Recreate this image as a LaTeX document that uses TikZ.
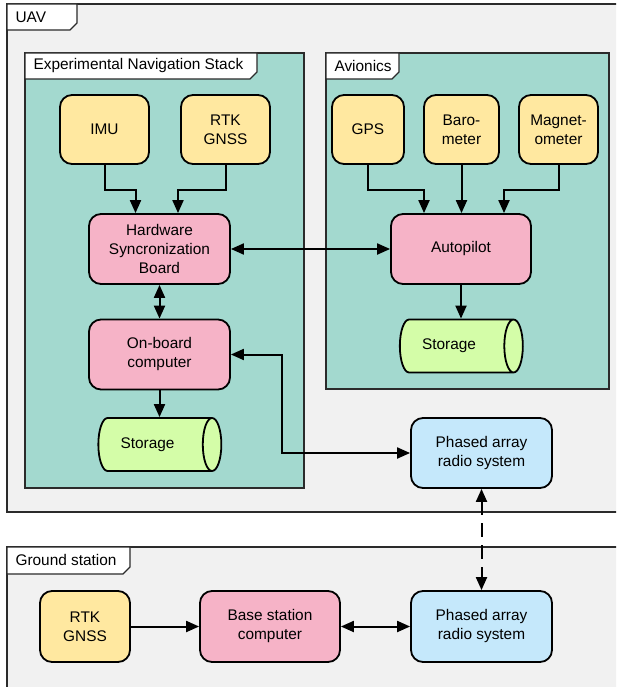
\documentclass[tikz,border=0pt]{standalone}
\usepackage{fontspec}
\setmainfont{Liberation Sans}
\usetikzlibrary{arrows.meta,shapes.geometric}
\definecolor{bggray}{HTML}{F1F1F1}
\definecolor{tealfill}{HTML}{A3D9CF}
\definecolor{sensorfill}{HTML}{FFE8A0}
\definecolor{procfill}{HTML}{F6B3C7}
\definecolor{radiofill}{HTML}{C5E8FB}
\definecolor{storefill}{HTML}{D4FDA8}
\definecolor{framedark}{HTML}{2B2B2B}
\begin{document}
\begin{tikzpicture}[x=1pt,y=-1pt,
  font=\fontsize{15.4}{19}\selectfont,
  box/.style={draw=black,line width=1.8pt,rounded corners=12pt,align=center,inner sep=2pt},
  sensor/.style={box,fill=sensorfill,minimum height=69pt},
  proc/.style={box,fill=procfill,minimum width=141pt,minimum height=70pt},
  radio/.style={box,fill=radiofill,minimum width=141pt,minimum height=70pt},
  store/.style={draw=black,line width=1.8pt,fill=storefill,cylinder,aspect=0.9,
    minimum width=53pt,minimum height=123pt},
  frame/.style={draw=framedark,line width=2pt},
  tab/.style={draw=framedark,line width=1.3pt,fill=white},
  conn/.style={line width=2pt,-{Triangle[length=13pt,width=11pt]}},
  dconn/.style={line width=2pt,{Triangle[length=13pt,width=11pt]}-{Triangle[length=13pt,width=11pt]}}]
\clip (0,0) rectangle (616,687);

% containers
\draw [frame,fill=bggray] (7,4) rectangle (640,512);
\draw [frame,fill=bggray] (7,547) rectangle (640,710);
\draw [frame,line width=1.6pt,fill=tealfill] (25,53) rectangle (304,488);
\draw [frame,line width=1.6pt,fill=tealfill] (326,53) rectangle (609,389);

% tabs
\draw [tab] (7,4) -- (77,4) -- (77,23) -- (70,30) -- (7,30) -- cycle;
\node [anchor=west] (uavlbl) at (12,17) {UAV};
\draw [tab] (25,53) -- (257,53) -- (257,72) -- (250,79) -- (25,79) -- cycle;
\node [anchor=west] (enslbl) at (30,66) {Experimental Navigation Stack};
\draw [tab] (326,53) -- (399,53) -- (399,72) -- (392,79) -- (326,79) -- cycle;
\node [anchor=west] (avilbl) at (331,66) {Avionics};
\draw [tab] (7,547) -- (130,547) -- (130,567) -- (123,574) -- (7,574) -- cycle;
\node [anchor=west] (gndlbl) at (12,560) {Ground station};

% sensors
\node [sensor,minimum width=89pt] (imu) at (104.5,129.5) {IMU};
\node [sensor,minimum width=89pt] (rtk) at (225.5,129.5) {RTK\\GNSS};
\node [sensor,minimum width=72pt] (gps) at (368,129.5) {GPS};
\node [sensor,minimum width=75pt] (baro) at (461.5,129.5) {Baro-\\meter};
\node [sensor,minimum width=79pt] (mag) at (558.5,129.5) {Magnet-\\ometer};

% processing
\node [proc] (hsb) at (159.5,249) {Hardware\\Syncronization\\Board};
\node [proc,minimum width=140pt] (ap) at (461,249) {Autopilot};
\node [proc] (obc) at (159.5,354.5) {On-board\\computer};
\node [store] (stobc) at (152.5,444.5) {Storage\hspace*{10pt}};
\node [store] (stap) at (454,346) {Storage\hspace*{10pt}};
\node [radio] (pau) at (481.5,453) {Phased array\\radio system};

% ground
\node [sensor,minimum width=90pt,minimum height=71pt] (rtkg) at (85,626.5) {RTK\\GNSS};
\node [proc,minimum width=140pt,minimum height=71pt] (base) at (270,626.5) {Base station\\computer};
\node [radio,minimum height=71pt] (pag) at (481.5,626.5) {Phased array\\radio system};

% connectors
\draw [conn] (imu.south) -- ++(0,25) -| ([xshift=-24pt]hsb.north);
\draw [conn] (rtk.south) -- ++(0,25) -| ([xshift=18.5pt]hsb.north);
\draw [conn] (gps.south) -- ++(0,25) -| ([xshift=-37pt]ap.north);
\draw [conn] (baro.south) -- (baro.south |- ap.north);
\draw [conn] (mag.south) -- ++(0,25) -| ([xshift=43pt]ap.north);
\draw [dconn] (hsb.east) -- (ap.west);
\draw [dconn] (hsb.south) -- (obc.north);
\draw [conn] (obc.south) -- (obc.south |- stobc.north);
\draw [conn] (ap.south) -- (ap.south |- stap.north);
\draw [dconn] (obc.east) -- ++(51,0) |- (pau.west);
\draw [dconn,dash pattern=on 14pt off 8pt] (pau.south) -- (pag.north);
\draw [conn] (rtkg.east) -- (base.west);
\draw [dconn] (base.east) -- (pag.west);
\end{tikzpicture}
\end{document}
